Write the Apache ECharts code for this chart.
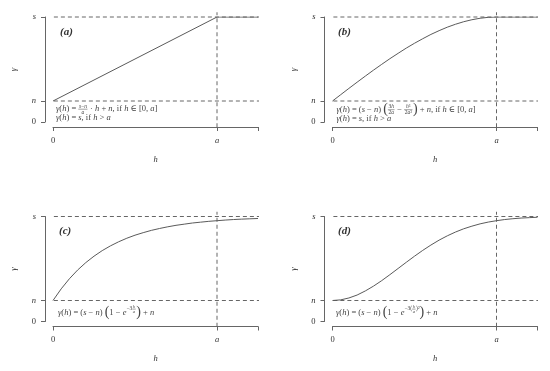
<!DOCTYPE html>
<html><head><meta charset="utf-8">
<script src="https://cdn.jsdelivr.net/npm/echarts@6/dist/echarts.min.js"></script>
<style>html,body{margin:0;padding:0;background:#fff}#c{width:550px;height:371px}</style>
</head><body><div id="c"></div>
<script>
// ---- data ----
const hA = [0, 1, 1.25];
const gammaA = [0.2, 1, 1];
const hB = [0,0.05,0.1,0.15,0.2,0.25,0.3,0.35,0.4,0.45,0.5,0.55,0.6,0.65,0.7,0.75,0.8,0.85,0.9,0.95,1,1.05,1.1,1.15,1.2,1.25];
const gammaB = [0.2,0.26,0.32,0.379,0.437,0.494,0.549,0.603,0.654,0.704,0.75,0.793,0.834,0.87,0.903,0.931,0.955,0.974,0.988,0.997,1,1,1,1,1,1];
const hC = [0,0.05,0.1,0.15,0.2,0.25,0.3,0.35,0.4,0.45,0.5,0.55,0.6,0.65,0.7,0.75,0.8,0.85,0.9,0.95,1,1.05,1.1,1.15,1.2,1.25];
const gammaC = [0.2,0.311,0.407,0.49,0.561,0.622,0.675,0.72,0.759,0.793,0.822,0.846,0.868,0.886,0.902,0.916,0.927,0.938,0.946,0.954,0.96,0.966,0.971,0.975,0.978,0.981];
const hD = [0,0.05,0.1,0.15,0.2,0.25,0.3,0.35,0.4,0.45,0.5,0.55,0.6,0.65,0.7,0.75,0.8,0.85,0.9,0.95,1,1.05,1.1,1.15,1.2,1.25];
const gammaD = [0.2,0.206,0.224,0.252,0.291,0.337,0.389,0.446,0.505,0.564,0.622,0.677,0.728,0.775,0.816,0.852,0.883,0.908,0.93,0.947,0.96,0.971,0.979,0.985,0.989,0.993];
const xTickValues = [0, 1, 1.25];
const xTickLabels = ['0', 'a', ''];
const yTickValues = [0, 0.2, 1];
const yTickLabels = ['0', 'n', 's'];
const sillLevel = 1;
const nuggetLevel = 0.2;
const rangeValue = 1;
const refSpanH = [-0.08, 1.31];
const refSpanGamma = [-0.05, 1.045];
const panelLabels = ['(a)', '(b)', '(c)', '(d)'];

// ---- layout ----
const FONT = '"Liberation Serif", "DejaVu Serif", serif';
const TXT = '#333';
const LINE = '#666';
const panels = [
  {left: 53, top: 17},
  {left: 332.5, top: 17},
  {left: 53, top: 216.5},
  {left: 332.5, top: 216.5}
];
const curves = [[hA, gammaA], [hB, gammaB], [hC, gammaC], [hD, gammaD]];

const grid = [], xAxis = [], yAxis = [], series = [];
const graphic = [];
const richI = {i: {fontStyle: 'italic', fontFamily: FONT, fontSize: 8.5, color: TXT}};
panels.forEach((p, i) => {
  grid.push({left: p.left, top: p.top, width: 205, height: 105, containLabel: false});
  xAxis.push({
    gridIndex: i, type: 'value', min: 0, max: 1.25, offset: 5,
    axisLine: {show: true, onZero: false, lineStyle: {color: LINE, width: 1}},
    axisTick: {show: true, length: 4, customValues: xTickValues, lineStyle: {color: LINE, width: 1}},
    axisLabel: {customValues: xTickValues, margin: 9, fontFamily: FONT, fontSize: 8.5, color: TXT, rich: richI,
      formatter: v => { const k = xTickValues.indexOf(v); const t = k < 0 ? '' : xTickLabels[k]; return /[a-z]/.test(t) ? '{i|' + t + '}' : t; }},
    splitLine: {show: false},
    name: 'h', nameLocation: 'middle', nameGap: 28,
    nameTextStyle: {fontStyle: 'italic', fontFamily: FONT, fontSize: 8.5, color: TXT}
  });
  yAxis.push({
    gridIndex: i, type: 'value', min: 0, max: 1, offset: 8,
    axisLine: {show: true, onZero: false, lineStyle: {color: LINE, width: 1}},
    axisTick: {show: true, length: 4, customValues: yTickValues, lineStyle: {color: LINE, width: 1}},
    axisLabel: {customValues: yTickValues, margin: 9, fontFamily: FONT, fontSize: 8.5, color: TXT, rich: richI,
      formatter: v => { const k = yTickValues.indexOf(v); const t = k < 0 ? '' : yTickLabels[k]; return /[a-z]/.test(t) ? '{i|' + t + '}' : t; }},
    splitLine: {show: false}
  });
  // rotated y-axis title
  graphic.push({type: 'text', x: p.left - 39, y: p.top + 52.5, rotation: Math.PI / 2, silent: true, z: 10,
    style: {text: 'γ', fontFamily: FONT, fontSize: 9, fontStyle: 'italic', fill: TXT,
      align: 'center', verticalAlign: 'middle', textAlign: 'center', textVerticalAlign: 'middle'}});
  const dash = {color: LINE, width: 1, type: [4, 3]};
  const ref = (data) => ({type: 'line', xAxisIndex: i, yAxisIndex: i, data, clip: false, silent: true,
    symbol: 'none', lineStyle: dash, z: 1, animation: false});
  series.push(ref([[refSpanH[0], sillLevel], [refSpanH[1], sillLevel]]));
  series.push(ref([[refSpanH[0], nuggetLevel], [refSpanH[1], nuggetLevel]]));
  series.push(ref([[rangeValue, refSpanGamma[0]], [rangeValue, refSpanGamma[1]]]));
  const [hs, gs] = curves[i];
  series.push({type: 'line', xAxisIndex: i, yAxisIndex: i, data: hs.map((h, k) => [h, gs[k]]),
    smooth: false, symbol: 'none', silent: true, animation: false,
    lineStyle: {color: '#5a5a5a', width: 1}, z: 3});
});

// ---- formula text builder ----
const ctx = document.createElement('canvas').getContext('2d');
function tw(t, size, it) { ctx.font = (it ? 'italic ' : '') + size + 'px ' + FONT; return ctx.measureText(t).width; }
function tokens(str) { return (str.match(/if|[a-zγ]|[^a-zγ]+/g) || []).map(t => ({t, it: /^[a-zγ]$/.test(t)})); }
function txt(x, y, t, size, it) {
  graphic.push({type: 'text', x, y, silent: true, z: 10,
    style: {text: t, fontFamily: FONT, fontSize: size, fontStyle: it ? 'italic' : 'normal', fill: '#444',
      align: 'left', verticalAlign: 'middle', textAlign: 'left', textVerticalAlign: 'middle'}});
}
function runW(str, size) { return tokens(str).reduce((a, tk) => a + tw(tk.t, size, tk.it), 0); }
function run(x, y, str, size) { tokens(str).forEach(tk => { txt(x, y, tk.t, size, tk.it); x += tw(tk.t, size, tk.it); }); return x; }
function formula(x, y, pieces) {
  pieces.forEach(p => {
    const size = p.size || 8.5, dy = p.dy || 0;
    if (p.s !== undefined) x = run(x, y + dy, p.s, size);
    else if (p.paren) { txt(x, y + dy + 0.3, p.paren, p.psize || 14, false); x += tw(p.paren, p.psize || 14, false); }
    else if (p.frac) {
      const fs = p.size || 5.5;
      const wn = runW(p.frac[0], fs), wd = runW(p.frac[1], fs), w = Math.max(wn, wd) + 1.2;
      const by = y + dy + 0.4;
      run(x + (w - wn) / 2, by - fs * 0.5, p.frac[0], fs);
      run(x + (w - wd) / 2, by + fs * 0.55, p.frac[1], fs);
      graphic.push({type: 'line', silent: true, z: 10, shape: {x1: x, y1: by, x2: x + w, y2: by}, style: {stroke: '#444', lineWidth: 0.5}});
      x += w + 0.5;
    }
  });
}
formula(56, 108.8, [{s: 'γ(h) = '}, {frac: ['s−n', 'a']}, {s: ' · h + n, if h ∈ [0, a]'}]);
formula(56, 117.5, [{s: 'γ(h) = s, if h > a'}]);
formula(336.5, 109.3, [{s: 'γ(h) = (s − n) '}, {paren: '('}, {frac: ['3h', '2a']}, {s: ' − '}, {frac: ['h³', '2a³']}, {paren: ')'}, {s: ' + n, if h ∈ [0, a]'}]);
formula(336.5, 118.5, [{s: 'γ(h) = s, if h > a'}]);
formula(58, 312.5, [{s: 'γ(h) = (s − n) '}, {paren: '('}, {s: '1 − e'}, {s: '−3', size: 5.5, dy: -3.8}, {frac: ['h', 'a'], size: 4.5, dy: -3.8}, {paren: ')'}, {s: ' + n'}]);
formula(336, 312.5, [{s: 'γ(h) = (s − n) '}, {paren: '('}, {s: '1 − e'}, {s: '−3(', size: 5.5, dy: -3.8}, {frac: ['h', 'a'], size: 4.5, dy: -3.8}, {s: ')²', size: 5.5, dy: -3.8}, {paren: ')'}, {s: ' + n'}]);

const labelPos = [[60, 32], [338, 32], [59, 231], [338, 231]];
panelLabels.forEach((t, i) => {
  graphic.push({type: 'text', x: labelPos[i][0], y: labelPos[i][1], silent: true, z: 10,
    style: {text: t, fontFamily: FONT, fontSize: 11, fontStyle: 'italic', fontWeight: 'bold', fill: '#333',
      align: 'left', verticalAlign: 'middle', textAlign: 'left', textVerticalAlign: 'middle'}});
});

const chart = echarts.init(document.getElementById('c'), null, {renderer: 'canvas'});
chart.setOption({animation: false, backgroundColor: '#fff', grid, xAxis, yAxis, series, graphic});
</script></body></html>
